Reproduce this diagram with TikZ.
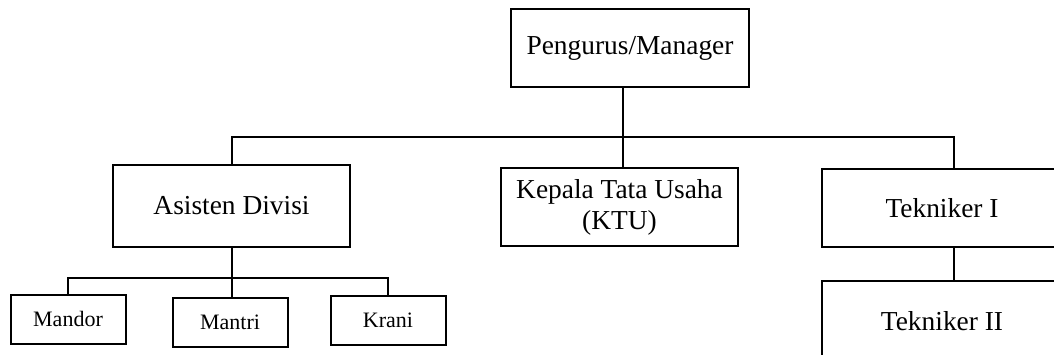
\documentclass[tikz,border=0pt]{standalone}
\usepackage{fontspec}
\setmainfont{Liberation Serif}
\usepackage{tikz}
\usetikzlibrary{positioning,calc}

\tikzset{
  unitbox/.style={draw, line width=1pt, align=center, inner sep=2pt,
    font=\fontsize{13.7}{15.5}\selectfont},
  staffbox/.style={draw, line width=1pt, align=center, inner sep=2pt,
    minimum width=57.5pt, minimum height=24.5pt,
    font=\fontsize{11}{13}\selectfont},
  link/.style={line width=1pt}
}

\begin{document}
\begin{tikzpicture}[x=0.5pt, y=-0.5pt]
  \useasboundingbox (0,0) rectangle (1054,354);
  \clip (0,0) rectangle (1054,354);
  % pimpinan
  \node[unitbox, minimum width=119pt, minimum height=39pt] (mgr) at (630,48) {Pengurus/Manager};
  % baris kedua
  \node[unitbox, minimum width=118.5pt, minimum height=41pt] (asd) at (231.5,206) {Asisten Divisi};
  \node[unitbox, minimum width=118.5pt, minimum height=39pt] (ktu) at (619.5,207) {Kepala Tata Usaha\\(KTU)};
  \node[unitbox, minimum width=120pt, minimum height=39pt] (tek1) at (942,208) {Tekniker I};
  \node[unitbox, minimum width=120pt, minimum height=40pt] (tek2) at (942,321) {Tekniker II};
  % bawahan asisten
  \node[staffbox] (mandor) at (68,319) {Mandor};
  \node[staffbox] (mantri) at (230,322.5) {Mantri};
  \node[staffbox] (krani) at (388,320.5) {Krani};
  % titik cabang
  \coordinate (top) at (623,137);
  \coordinate (busL) at (232,137);
  \coordinate (busR) at (954,137);
  \coordinate (sub) at (232,278);
  % garis
  \draw[link] (top |- mgr.south) -- (top |- ktu.north);
  \draw[link] (busL |- asd.north) -- (busL) -- (busR) -- (busR |- tek1.north);
  \draw[link] (busR |- tek1.south) -- (busR |- tek2.north);
  \draw[link] (sub |- asd.south) -- (sub |- mantri.north);
  \draw[link] (mandor.north) |- (sub) -| (krani.north);
\end{tikzpicture}
\end{document}
